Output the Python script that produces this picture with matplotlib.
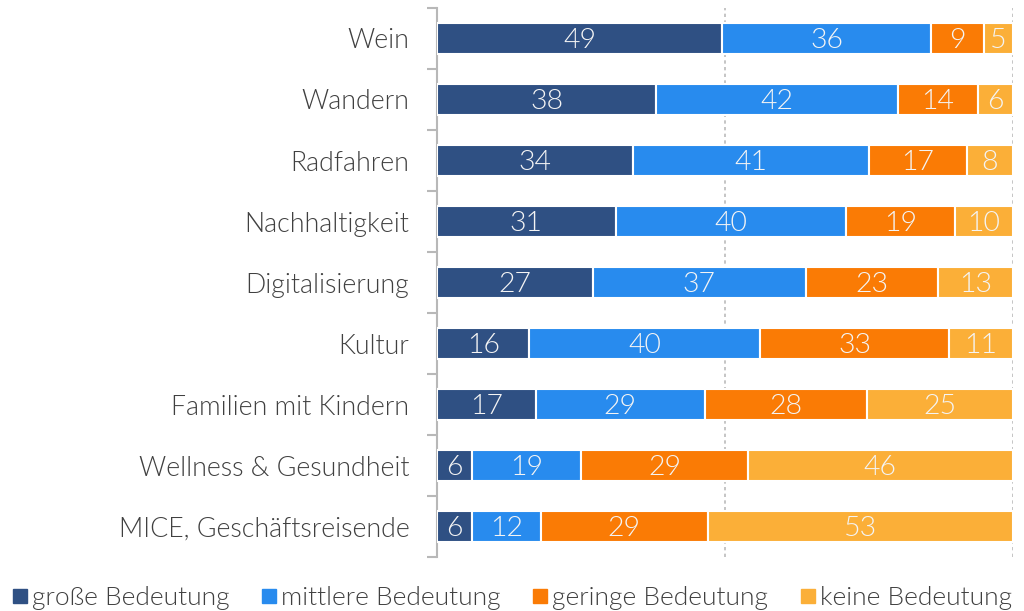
import matplotlib.pyplot as plt
import numpy as np

categories = ["Wein", "Wandern", "Radfahren", "Nachhaltigkeit", "Digitalisierung",
              "Kultur", "Familien mit Kindern", "Wellness & Gesundheit",
              "MICE, Geschäftsreisende"]
gross = [49, 38, 34, 31, 27, 16, 17, 6, 6]
mittel = [36, 42, 41, 40, 37, 40, 29, 19, 12]
gering = [9, 14, 17, 19, 23, 33, 28, 29, 29]
keine = [5, 6, 8, 10, 13, 11, 25, 46, 53]
series_names = ["große Bedeutung", "mittlere Bedeutung", "geringe Bedeutung", "keine Bedeutung"]
colors = ["#2F5083", "#288BEE", "#FA7B05", "#FBAF38"]

plt.rcParams['font.family'] = ['Lato', 'DejaVu Sans']
plt.rcParams['font.weight'] = 300

data = np.array([gross, mittel, gering, keine], dtype=float)
share = data / data.sum(axis=0) * 100

fig = plt.figure(figsize=(10.24, 6.11), dpi=100)
ax = fig.add_axes([0.427, 0.088, 0.562, 0.899])

y = np.arange(len(categories))
left = np.zeros(len(categories))
for i in range(4):
    bars = ax.barh(y, share[i], left=left, height=0.51, color=colors[i],
                   edgecolor='white', linewidth=1.5, label=series_names[i], zorder=3)
    for j, b in enumerate(bars):
        ax.text(left[j] + share[i][j] / 2, y[j] + 0.03, str(int(data[i][j])),
                ha='center', va='center', color='#F4F4F4', fontsize=20.5,
                fontweight=300, zorder=4)
    left += share[i]

ax.set_xlim(0, 100)
ax.set_ylim(len(categories) - 0.5, -0.5)
ax.set_yticks(y)
ax.set_yticklabels(categories, fontsize=19.3, fontweight=300, color='#404040')
ax.set_yticks(np.arange(-0.5, len(categories)), minor=True)
ax.tick_params(axis='y', which='major', length=0, pad=20)
ax.tick_params(axis='y', which='minor', length=7.5, color='#B8B8B8', width=1.5)
ax.set_xticks([50, 100])
ax.tick_params(axis='x', length=0, labelbottom=False)
ax.xaxis.grid(True, linestyle=(0, (2, 2)), color='#BBBBBB', linewidth=1.2, zorder=0)

for s in ['top', 'right', 'bottom']:
    ax.spines[s].set_visible(False)
ax.spines['left'].set_color('#B8B8B8')
ax.spines['left'].set_linewidth(1.5)

handles = [plt.Line2D([], [], marker='s', linestyle='', color=c, markersize=9.5) for c in colors]
leg = fig.legend(handles, series_names, loc='lower left', bbox_to_anchor=(-0.01, -0.037),
                 ncol=4, frameon=False, handlelength=0.5, handletextpad=0.2,
                 columnspacing=1.25, prop={'size': 19, 'weight': 300})
for t in leg.get_texts():
    t.set_color('#404040')

fig.savefig("out.png", dpi=100)
